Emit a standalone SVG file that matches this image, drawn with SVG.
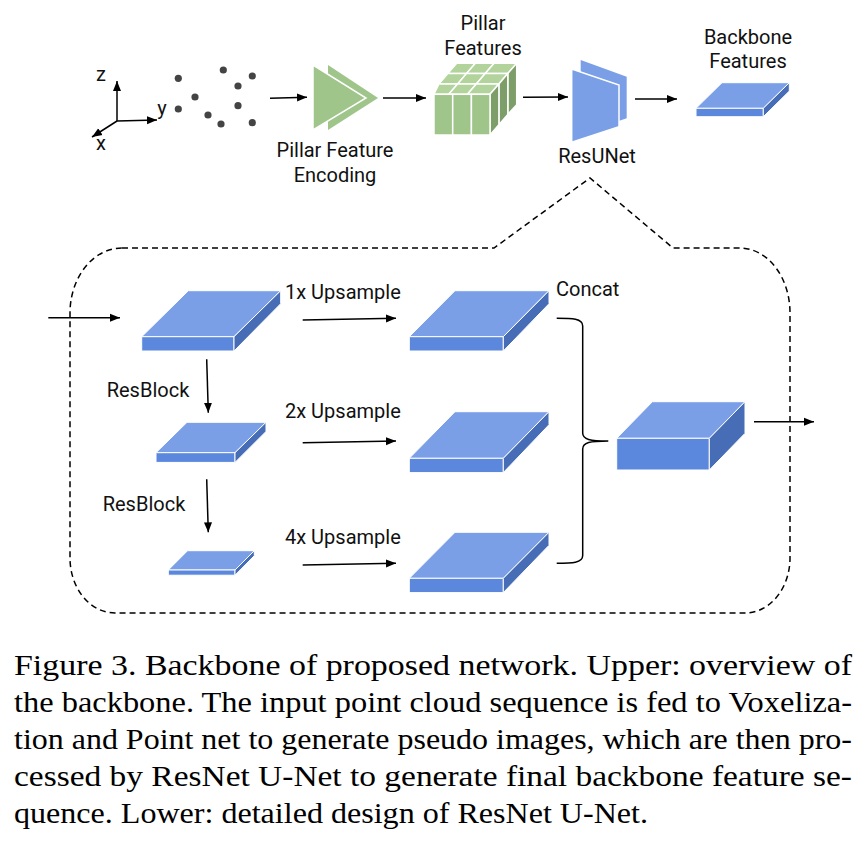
<svg xmlns="http://www.w3.org/2000/svg" width="868" height="846" viewBox="0 0 868 846">
<style>
.lbl{font-family:Roboto,"Liberation Sans",sans-serif;font-size:20px;fill:#111}
.cap{font-family:"Liberation Serif","Times New Roman",serif;font-size:30px;fill:#000}
.ln{stroke:#000;stroke-width:1.5;fill:none}
.top{fill:#7a9fe6;stroke:#fff;stroke-width:1}
.frt{fill:#5b88dd;stroke:#fff;stroke-width:1}
.sid{fill:#466db5;stroke:#fff;stroke-width:1}
.gf{fill:#9fc58a;stroke:#fff;stroke-width:1.5}
.gt{fill:#b2d39c;stroke:#fff;stroke-width:1.5}
.gs{fill:#7d9e68;stroke:#fff;stroke-width:1.5}
.dot{fill:#444}
</style>
<defs>
<marker id="ah" viewBox="0 0 10 10" refX="10" refY="5" markerWidth="10" markerHeight="10" markerUnits="userSpaceOnUse" orient="auto">
<path d="M0,1 L10,5 L0,9 Z" fill="#000"/>
</marker>
</defs>
<rect width="868" height="846" fill="#fff"/>

<g id="axes">
<line class="ln" x1="117" y1="121" x2="117" y2="81" marker-end="url(#ah)"/>
<line class="ln" x1="117" y1="121" x2="157" y2="120" marker-end="url(#ah)"/>
<line class="ln" x1="117" y1="121" x2="92" y2="137" marker-end="url(#ah)"/>
<text class="lbl" x="101" y="81" text-anchor="middle" font-size="20">z</text>
<text class="lbl" x="162" y="115" text-anchor="middle" font-size="20">y</text>
<text class="lbl" x="101" y="150" text-anchor="middle" font-size="20">x</text>
</g>

<g id="points">
<circle class="dot" cx="178.3" cy="78.3" r="3.6"/>
<circle class="dot" cx="223.3" cy="70" r="3.6"/>
<circle class="dot" cx="252.3" cy="76" r="3.6"/>
<circle class="dot" cx="238" cy="86" r="3.6"/>
<circle class="dot" cx="195" cy="97" r="3.6"/>
<circle class="dot" cx="178.3" cy="109" r="3.6"/>
<circle class="dot" cx="238" cy="105.7" r="3.6"/>
<circle class="dot" cx="208" cy="115" r="3.6"/>
<circle class="dot" cx="221" cy="124" r="3.6"/>
<circle class="dot" cx="252.3" cy="122.7" r="3.6"/>
</g>

<g id="pillar-encoding">
<polygon points="328,65 378,98 328,130" fill="#9fc58a"/>
<polygon points="313,65 366,98 313,130" fill="#9fc58a" stroke="#fff" stroke-width="1.5"/>
<text class="lbl" x="335" y="157" text-anchor="middle">Pillar Feature</text>
<text class="lbl" x="335" y="182" text-anchor="middle">Encoding</text>
</g>

<g id="pillar-features">
<polygon class="gt" points="456.7,63.3 475.4,63.3 466.5,73.6 447.8,73.6"/>
<polygon class="gt" points="475.4,63.3 494.1,63.3 485.2,73.6 466.5,73.6"/>
<polygon class="gt" points="494.1,63.3 516.7,63.3 507.8,73.6 485.2,73.6"/>
<polygon class="gt" points="447.8,73.6 466.5,73.6 457.6,83.9 438.9,83.9"/>
<polygon class="gt" points="466.5,73.6 485.2,73.6 476.3,83.9 457.6,83.9"/>
<polygon class="gt" points="485.2,73.6 507.8,73.6 498.9,83.9 476.3,83.9"/>
<polygon class="gt" points="438.9,83.9 457.6,83.9 448.7,94.3 434,94.3"/>
<polygon class="gt" points="457.6,83.9 476.3,83.9 467.4,94.3 448.7,94.3"/>
<polygon class="gt" points="476.3,83.9 498.9,83.9 490,94.3 467.4,94.3"/>
<polygon class="gs" points="507.8,73.6 516.7,63.3 516.7,104.7 507.8,114.4"/>
<polygon class="gs" points="498.9,83.9 507.8,73.6 507.8,114.4 498.9,124.7"/>
<polygon class="gs" points="490,94.3 498.9,83.9 498.9,124.7 490,135"/>
<rect class="gf" x="434" y="94.3" width="18.7" height="40.7"/>
<rect class="gf" x="452.7" y="94.3" width="18.7" height="40.7"/>
<rect class="gf" x="471.4" y="94.3" width="18.6" height="40.7"/>
<text class="lbl" x="483" y="30" text-anchor="middle">Pillar</text>
<text class="lbl" x="483" y="55" text-anchor="middle">Features</text>
</g>

<g id="resunet">
<polygon points="580.7,60 626.7,76.7 626.7,118.3 580.7,134" fill="#7a9fe6"/>
<polygon points="571.7,69 619,85 619,126.7 571.7,142.3" fill="#7a9fe6" stroke="#fff" stroke-width="1.5"/>
<text class="lbl" x="597" y="163" text-anchor="middle">ResUNet</text>
</g>

<g id="backbone-features">
<polygon class="top" points="696,108.3 763.3,108.3 789.3,82.7 722,82.7"/>
<rect class="frt" x="696" y="108.3" width="67.3" height="8.4"/>
<polygon class="sid" points="763.3,108.3 789.3,82.7 789.3,91.1 763.3,116.7"/>
<text class="lbl" x="748" y="44" text-anchor="middle">Backbone</text>
<text class="lbl" x="748" y="68" text-anchor="middle">Features</text>
</g>

<g id="resunet-detail-outline">
<path d="M122,248 H494 L590,178 L673,248 H740 A50 65 0 0 1 790 313 V558 A45 55 0 0 1 745 613 H115 A45 55 0 0 1 70 558 V313 A52 65 0 0 1 122 248 Z" fill="none" stroke="#000" stroke-width="1.5" stroke-dasharray="6 4"/>
</g>

<g id="slab-l1">
<polygon class="top" points="141.7,336.7 234,336.7 280.7,290.7 188.4,290.7"/>
<rect class="frt" x="141.7" y="336.7" width="92.3" height="14.3"/>
<polygon class="sid" points="234,336.7 280.7,290.7 280.7,303.7 234,351"/>
</g>
<g id="slab-l2">
<polygon class="top" points="156,452.7 235,452.7 266,422.3 187,422.3"/>
<rect class="frt" x="156" y="452.7" width="79" height="9.7"/>
<polygon class="sid" points="235,452.7 266,422.3 266,431.5 235,462.4"/>
</g>
<g id="slab-l3">
<polygon class="top" points="168.3,570 235,570 254.3,550.7 187.6,550.7"/>
<rect class="frt" x="168.3" y="570" width="66.7" height="5.2"/>
<polygon class="sid" points="235,570 254.3,550.7 254.3,555.7 235,575.2"/>
</g>
<g id="slab-r1">
<polygon class="top" points="409.3,336.7 503.3,336.7 549,290.7 455,290.7"/>
<rect class="frt" x="409.3" y="336.7" width="94" height="14.3"/>
<polygon class="sid" points="503.3,336.7 549,290.7 549,303.7 503.3,351"/>
</g>
<g id="slab-r2">
<polygon class="top" points="409.3,458.3 503.3,458.3 549,411.7 455,411.7"/>
<rect class="frt" x="409.3" y="458.3" width="94" height="14.3"/>
<polygon class="sid" points="503.3,458.3 549,411.7 549,424.7 503.3,472.6"/>
</g>
<g id="slab-r3">
<polygon class="top" points="409.3,578.3 503.3,578.3 549,532.3 455,532.3"/>
<rect class="frt" x="409.3" y="578.3" width="94" height="14.3"/>
<polygon class="sid" points="503.3,578.3 549,532.3 549,545.3 503.3,592.6"/>
</g>
<g id="slab-concat">
<polygon class="top" points="616.7,438.3 709.3,438.3 745,401.7 652.4,401.7"/>
<rect class="frt" x="616.7" y="438.3" width="92.6" height="31.7"/>
<polygon class="sid" points="709.3,438.3 745,401.7 745,433.3 709.3,470"/>
</g>

<g id="labels">
<text class="lbl" x="285" y="299">1x Upsample</text>
<text class="lbl" x="285" y="418">2x Upsample</text>
<text class="lbl" x="285" y="544">4x Upsample</text>
<text class="lbl" x="106.7" y="397">ResBlock</text>
<text class="lbl" x="102.7" y="511">ResBlock</text>
<text class="lbl" x="556" y="296">Concat</text>
</g>

<g id="connectors">
<line class="ln" x1="270" y1="98.3" x2="307" y2="97.3" marker-end="url(#ah)"/>
<line class="ln" x1="383" y1="98" x2="426" y2="98" marker-end="url(#ah)"/>
<line class="ln" x1="523" y1="97.3" x2="568" y2="97" marker-end="url(#ah)"/>
<line class="ln" x1="635" y1="99" x2="677" y2="99" marker-end="url(#ah)"/>
<line class="ln" x1="48.3" y1="317.7" x2="120" y2="317.7" marker-end="url(#ah)"/>
<line class="ln" x1="206.7" y1="359.3" x2="208.3" y2="412.7" marker-end="url(#ah)"/>
<line class="ln" x1="206.7" y1="479.3" x2="208.3" y2="532.3" marker-end="url(#ah)"/>
<line class="ln" x1="302.7" y1="320" x2="396" y2="318.3" marker-end="url(#ah)"/>
<line class="ln" x1="302.7" y1="442.7" x2="396" y2="441" marker-end="url(#ah)"/>
<line class="ln" x1="302.7" y1="565" x2="396" y2="563.3" marker-end="url(#ah)"/>
<path class="ln" d="M556.7,318.3 C572,318.3 582.7,318.5 582.7,326 V433 C582.7,439.5 590,441 608.3,441 C590,441 582.7,442.5 582.7,449 V555.5 C582.7,563 572,563.3 556.7,563.3"/>
<line class="ln" x1="754" y1="421.7" x2="814" y2="421.7" marker-end="url(#ah)"/>
</g>

<g id="caption">
<text class="cap" x="14" y="675" textLength="838" lengthAdjust="spacingAndGlyphs">Figure 3. Backbone of proposed network.  Upper:  overview of</text>
<text class="cap" x="14" y="712" textLength="838" lengthAdjust="spacingAndGlyphs">the backbone. The input point cloud sequence is fed to Voxeliza-</text>
<text class="cap" x="14" y="749" textLength="838" lengthAdjust="spacingAndGlyphs">tion and Point net to generate pseudo images, which are then pro-</text>
<text class="cap" x="14" y="786" textLength="838" lengthAdjust="spacingAndGlyphs">cessed by ResNet U-Net to generate final backbone feature se-</text>
<text class="cap" x="14" y="823" textLength="634" lengthAdjust="spacingAndGlyphs">quence. Lower: detailed design of ResNet U-Net.</text>
</g>
</svg>
